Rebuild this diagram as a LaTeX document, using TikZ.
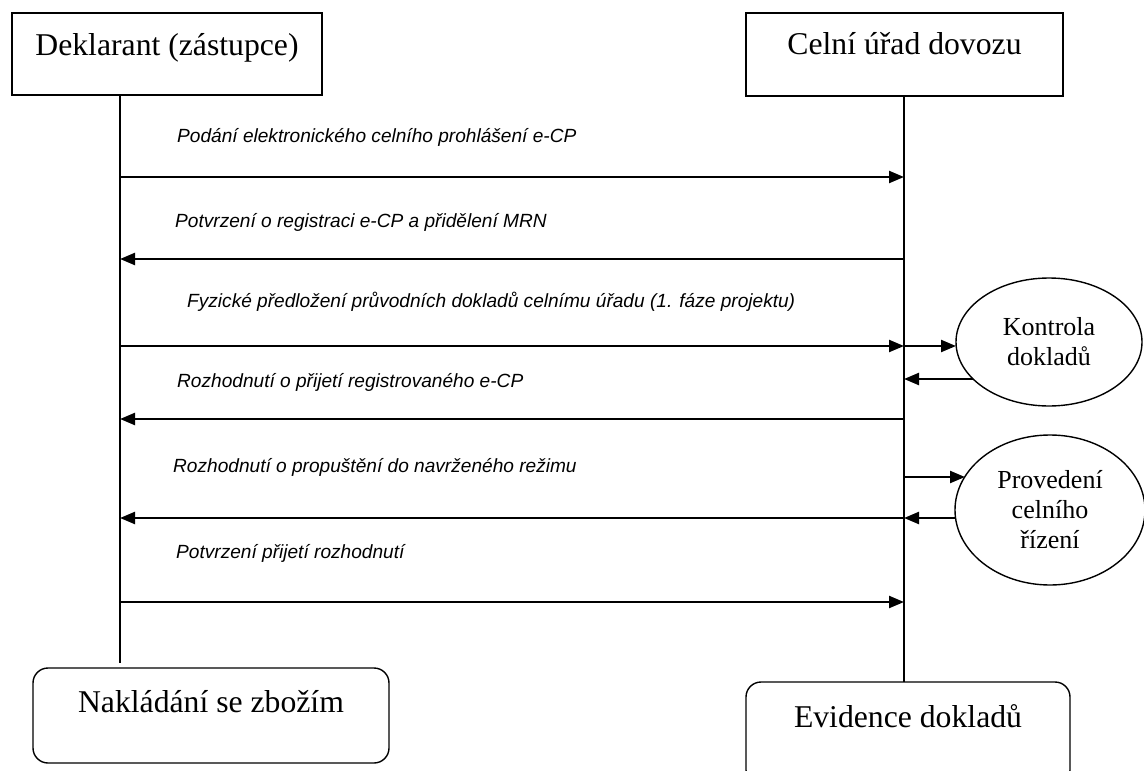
\documentclass[tikz,border=0pt]{standalone}
\usepackage{fontspec}
\setmainfont{Liberation Serif}
\newfontfamily\arialfont{Liberation Sans}
\usetikzlibrary{arrows.meta,shapes.geometric}
\begin{document}
\begin{tikzpicture}[x=1pt,y=-1pt,
  boxtxt/.style={draw,line width=1.4pt,inner sep=0pt,font=\fontsize{31.7}{36}\selectfont},
  rbox/.style={boxtxt,rounded corners=15pt},
  lifeline/.style={line width=1.5pt},
  msg/.style={line width=2.3pt,-{Triangle[length=15pt,width=12pt]}},
  lbl/.style={inner sep=0pt,anchor=base west,font=\arialfont\itshape\fontsize{19.1}{22}\selectfont},
  oval/.style={ellipse,draw,line width=1.4pt,inner sep=0pt,align=center,font=\fontsize{26}{30}\selectfont}]
\useasboundingbox (0,0) rectangle (1144,771);
% boxes
\node[boxtxt,minimum width=310pt,text height=42pt,text depth=40pt,anchor=base] (dek) at (167,55) {Deklarant (zástupce)};
\node[boxtxt,minimum width=317pt,text height=41pt,text depth=42pt,anchor=base] (celni) at (904.5,54) {Celní úřad dovozu};
\node[rbox,minimum width=356pt,text height=44pt,text depth=51pt,anchor=base] (nakl) at (211,712) {Nakládání se zbožím};
\node[rbox,minimum width=324pt,text height=45pt,text depth=58pt,anchor=base] (evid) at (908,727) {Evidence dokladů};
% ellipses
\node[oval,minimum width=186pt,minimum height=128pt] (kontrola) at (1049,342) {Kontrola\\dokladů};
\node[oval,minimum width=190pt,minimum height=150pt] (proved) at (1050,510) {Provedení\\celního\\řízení};
% lifelines
\coordinate (Ltop) at (120,95);
\coordinate (Lbot) at (120,663);
\coordinate (Rtop) at (904,96);
\coordinate (Rbot) at (904,682);
\draw[lifeline] (Ltop) -- (Lbot);
\draw[lifeline] (Rtop) -- (Rbot);
% message endpoints
\coordinate (L1) at (120,177); \coordinate (R1) at (904,177);
\coordinate (L2) at (120,259); \coordinate (R2) at (904,259);
\coordinate (L3) at (120,346); \coordinate (R3) at (904,346); \coordinate (K3) at (956,346);
\coordinate (R4) at (904,379); \coordinate (K4) at (973,379);
\coordinate (L5) at (120,419); \coordinate (R5) at (904,419);
\coordinate (R6) at (904,477); \coordinate (P6) at (965,477);
\coordinate (L7) at (120,518); \coordinate (R7) at (904,518); \coordinate (P7) at (956,518);
\coordinate (L8) at (120,602); \coordinate (R8) at (904,602);
% messages
\draw[msg] (L1) -- (R1);
\draw[msg] (R2) -- (L2);
\draw[msg] (L3) -- (R3);
\draw[msg] (R3) -- (K3);
\draw[msg] (K4) -- (R4);
\draw[msg] (R5) -- (L5);
\draw[msg] (R6) -- (P6);
\draw[msg] (P7) -- (R7);
\draw[msg] (R7) -- (L7);
\draw[msg] (L8) -- (R8);
% labels
\node[lbl] (t1) at (177,142) {Podání elektronického celního prohlášení e-CP};
\node[lbl] (t2) at (175,227) {Potvrzení o registraci e-CP a přidělení MRN};
\node[lbl] (t3) at (187,307) {Fyzické předložení průvodních dokladů celnímu úřadu (1. fáze projektu)};
\node[lbl] (t4) at (177,387) {Rozhodnutí o přijetí registrovaného e-CP};
\node[lbl] (t5) at (173,472) {Rozhodnutí o propuštění do navrženého režimu};
\node[lbl] (t6) at (176,558) {Potvrzení přijetí rozhodnutí};
\end{tikzpicture}
\end{document}
